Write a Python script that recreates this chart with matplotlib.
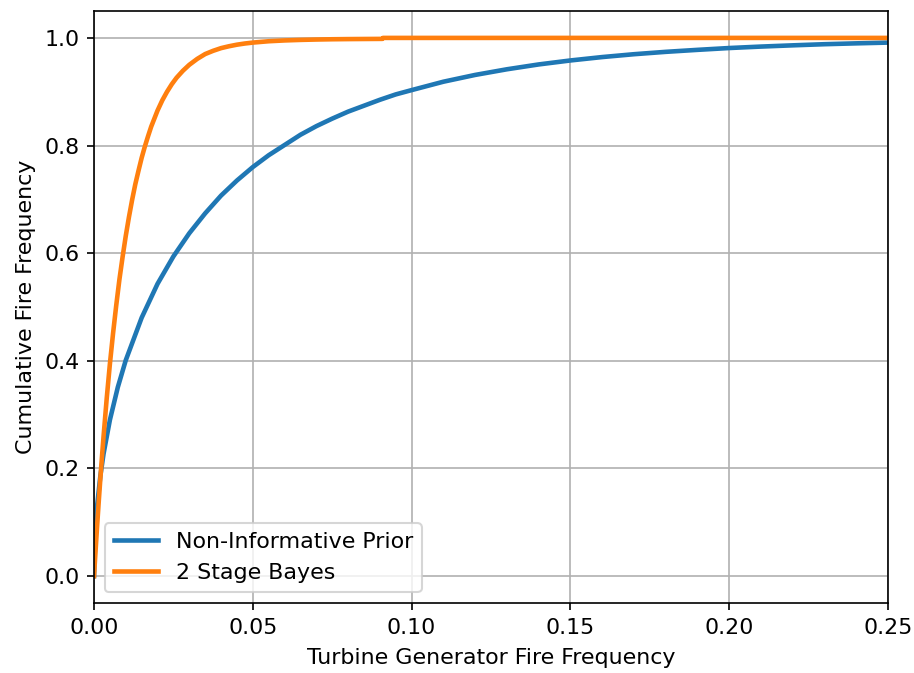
import matplotlib
matplotlib.use("Agg")
import matplotlib.pyplot as plt

# Non-Informative Prior CDF
x_noninf = [0.0, 0.0005, 0.001, 0.002, 0.003, 0.005, 0.0075, 0.01, 0.015, 0.02,
            0.025, 0.03, 0.035, 0.04, 0.045, 0.05, 0.055, 0.06, 0.065, 0.07,
            0.075, 0.08, 0.085, 0.09, 0.095, 0.10, 0.11, 0.12, 0.13, 0.14,
            0.15, 0.16, 0.17, 0.18, 0.19, 0.20, 0.21, 0.22, 0.23, 0.24, 0.25]
y_noninf = [0.0, 0.094, 0.132, 0.186, 0.227, 0.290, 0.351, 0.401, 0.480, 0.543,
            0.594, 0.637, 0.674, 0.707, 0.735, 0.760, 0.782, 0.801, 0.820, 0.836,
            0.850, 0.863, 0.874, 0.885, 0.895, 0.903, 0.9186, 0.9312, 0.9417, 0.9507,
            0.9581, 0.9644, 0.9697, 0.9741, 0.9778, 0.9812, 0.9839, 0.9862, 0.9883, 0.9899, 0.9913]

# 2 Stage Bayes CDF
x_bayes = [0.0, 0.001, 0.0015, 0.002, 0.0025, 0.003, 0.004, 0.005, 0.006, 0.007,
           0.008, 0.009, 0.010, 0.011, 0.012, 0.013, 0.014, 0.015, 0.016, 0.017,
           0.018, 0.019, 0.020, 0.0215, 0.023, 0.0245, 0.026, 0.028, 0.030, 0.0325,
           0.035, 0.0375, 0.040, 0.0425, 0.045, 0.0475, 0.050, 0.055, 0.060, 0.065,
           0.070, 0.075, 0.080, 0.085, 0.0908, 0.0910, 0.25]
y_bayes = [0.0, 0.095, 0.139, 0.181, 0.221, 0.259, 0.330, 0.394, 0.451, 0.503,
           0.551, 0.593, 0.632, 0.667, 0.699, 0.728, 0.753, 0.777, 0.798, 0.817,
           0.835, 0.850, 0.865, 0.884, 0.900, 0.914, 0.926, 0.939, 0.950, 0.961,
           0.970, 0.976, 0.981, 0.9845, 0.9874, 0.9896, 0.9913, 0.9938, 0.9953, 0.9963,
           0.9970, 0.9975, 0.9978, 0.9980, 0.9982, 1.0, 1.0]

x_ticks = [0.00, 0.05, 0.10, 0.15, 0.20, 0.25]
y_ticks = [0.0, 0.2, 0.4, 0.6, 0.8, 1.0]

plt.rcParams["font.size"] = 10.6

fig = plt.figure(figsize=(914 / 150, 673 / 150), dpi=150)
ax = fig.add_axes([94 / 914, 70 / 673, (888 - 94) / 914, (603 - 11) / 673])

ax.plot(x_noninf, y_noninf, color="#1f77b4", lw=2.2, label="Non-Informative Prior")
ax.plot(x_bayes, y_bayes, color="#ff7f0e", lw=2.2, label="2 Stage Bayes")

ax.set_xlim(0, 0.25)
ax.set_ylim(-0.05, 1.05)
ax.set_xticks(x_ticks)
ax.set_yticks(y_ticks)
ax.grid(True)
ax.set_xlabel("Turbine Generator Fire Frequency", labelpad=5)
ax.set_ylabel("Cumulative Fire Frequency")
ax.legend(loc="lower left")

fig.savefig("out.png", dpi=150)
